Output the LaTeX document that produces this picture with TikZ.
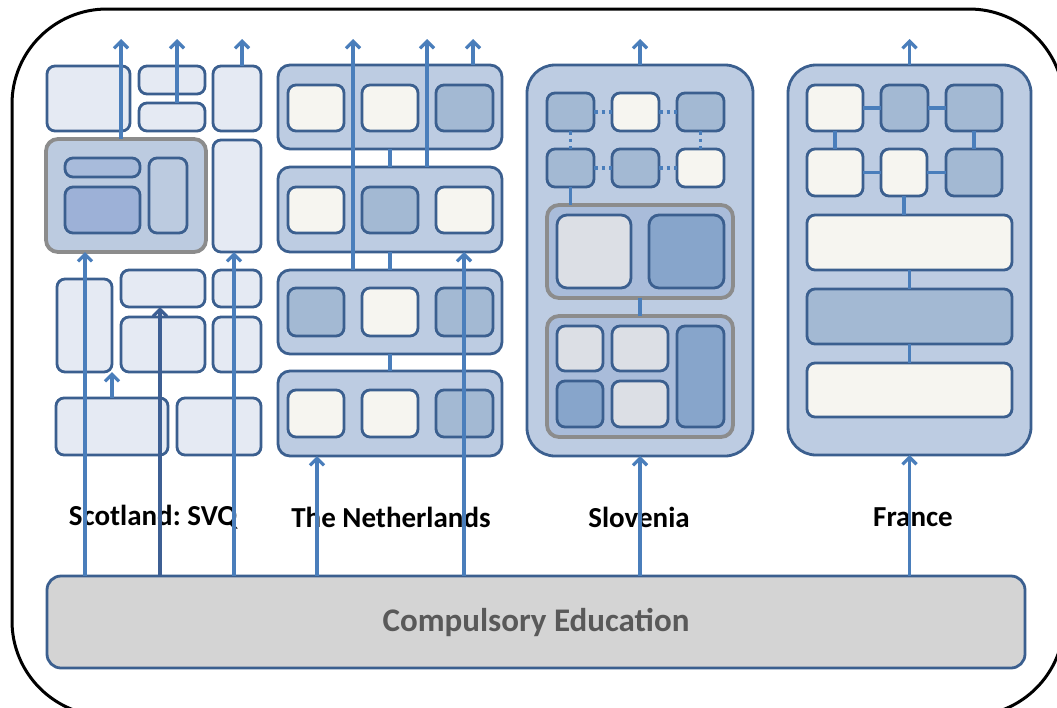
\documentclass[tikz,border=0pt]{standalone}
\usepackage{fontspec}
\setmainfont{Carlito}
\usetikzlibrary{arrows.meta}
\definecolor{bord}{HTML}{3B5F8F}
\definecolor{arrowc}{HTML}{4A7EBB}
\definecolor{arrowd}{HTML}{3D5F93}
\definecolor{paleb}{HTML}{E5EAF3}
\definecolor{cont}{HTML}{BDCCE2}
\definecolor{cream}{HTML}{F6F5F0}
\definecolor{darkb}{HTML}{A3B9D3}
\definecolor{grpf}{HTML}{A9BCDA}
\definecolor{grpg}{HTML}{BCCBE0}
\definecolor{ginA}{HTML}{A8BBDB}
\definecolor{ginB}{HTML}{9DB1D7}
\definecolor{grayl}{HTML}{DCDFE5}
\definecolor{deepb}{HTML}{87A5CB}
\definecolor{grayb}{HTML}{8C8C8C}
\definecolor{compf}{HTML}{D4D4D4}
\definecolor{compt}{HTML}{595959}
\newcommand\mybox[6]{\node[#2, minimum width={(#5-#3)*1pt}, minimum height={(#6-#4)*1pt}] (#1) at ({(#3+#5)/2},{(#4+#6)/2}) {};}
\tikzset{
  bx/.style={draw=bord, line width=2.8pt, rounded corners=8pt, inner sep=0pt, outer sep=0pt},
  pale/.style={bx, fill=paleb},
  cr/.style={bx, fill=cream},
  dk/.style={bx, fill=darkb},
  ct/.style={bx, fill=cont, rounded corners=12pt},
  grp/.style={bx, draw=grayb, line width=3.8pt, fill=grpf, rounded corners=12pt},
  arr/.style={draw=arrowc, line width=3.2pt, -{Straight Barb[length=7pt,width=14pt]}},
  arrd/.style={arr, draw=arrowd},
  ln/.style={draw=arrowc, line width=3.4pt},
  dt/.style={ln, line width=3.8pt, dash pattern=on 3.6pt off 4pt},
  lab/.style={font=\bfseries\fontsize{29}{32}\selectfont, text=black, inner sep=0pt}
}
\frenchspacing
\begin{document}
\begin{tikzpicture}[x=1pt,y=-1pt]
\useasboundingbox (0,0) rectangle (1057,707);
\clip (0,0) rectangle (1057,707);
\fill[white] (0,0) rectangle (1057,707);
\draw[black, line width=3pt, rounded corners=95pt] (12,9) rectangle (1064,716);

% ---------- Scotland ----------
\mybox{sA}{pale}{47}{66}{130}{131}
\mybox{sB}{pale}{139}{66}{205}{94}
\mybox{sC}{pale}{139}{103}{205}{131}
\mybox{sD}{pale}{213}{66}{261}{131}
\mybox{sG}{grp, fill=grpg}{46}{139}{206}{252}
\mybox{sG1}{bx, fill=ginA}{65}{158}{140}{177}
\mybox{sG2}{bx, fill=ginB}{65}{187}{140}{233}
\mybox{sG3}{bx, fill=grpg}{149}{158}{187}{233}
\mybox{sE}{pale}{213}{140}{261}{252}
\mybox{sF}{pale}{57}{279}{112}{372}
\mybox{sH}{pale}{121}{270}{205}{307}
\mybox{sI}{pale}{121}{317}{205}{372}
\mybox{sJ}{pale}{213}{270}{261}{307}
\mybox{sK}{pale}{213}{317}{261}{372}
\mybox{sL}{pale}{56}{398}{168}{455}
\mybox{sM}{pale}{177}{398}{261}{455}

% ---------- Netherlands ----------
\mybox{n1}{ct}{278}{65}{502}{149}
\mybox{n2}{ct}{278}{167}{502}{252}
\mybox{n3}{ct}{278}{270}{502}{354}
\mybox{n4}{ct}{278}{371}{502}{456}
\mybox{n1a}{cr}{288}{85}{344}{131}
\mybox{n1b}{cr}{362}{85}{418}{131}
\mybox{n1c}{dk}{436}{85}{493}{131}
\mybox{n2a}{cr}{288}{187}{344}{233}
\mybox{n2b}{dk}{362}{187}{418}{233}
\mybox{n2c}{cr}{436}{187}{493}{233}
\mybox{n3a}{dk}{288}{288}{344}{336}
\mybox{n3b}{cr}{362}{288}{418}{336}
\mybox{n3c}{dk}{436}{288}{493}{336}
\mybox{n4a}{cr}{288}{390}{344}{437}
\mybox{n4b}{cr}{362}{390}{418}{437}
\mybox{n4c}{dk}{436}{390}{493}{437}
\draw[ln] (n1.south) -- (n2.north);
\draw[ln] (n2.south) -- (n3.north);
\draw[ln] (n3.south) -- (n4.north);

% ---------- Slovenia ----------
\mybox{sv}{ct, rounded corners=28pt}{527}{65}{753}{456}
\mybox{v11}{dk}{547}{93}{594}{131}
\mybox{v12}{cr}{612}{93}{659}{131}
\mybox{v13}{dk}{677}{93}{724}{131}
\mybox{v21}{dk}{547}{149}{594}{187}
\mybox{v22}{dk}{612}{149}{659}{187}
\mybox{v23}{cr}{677}{149}{724}{187}
\draw[dt] (v11.east) -- (v12.west);
\draw[dt] (v12.east) -- (v13.west);
\draw[dt] (v21.east) -- (v22.west);
\draw[dt] (v22.east) -- (v23.west);
\draw[dt] (v11.south) -- (v21.north);
\draw[dt] (v13.south) -- (v23.north);
\mybox{vg1}{grp}{547}{205}{733}{298}
\mybox{vg2}{grp}{547}{316}{733}{437}
\mybox{vg1a}{bx, fill=grayl, rounded corners=10pt}{557}{215}{631}{288}
\mybox{vg1b}{bx, fill=deepb, rounded corners=10pt}{649}{215}{724}{288}
\mybox{vg2a}{bx, fill=grayl}{557}{326}{603}{371}
\mybox{vg2b}{bx, fill=grayl}{612}{326}{668}{371}
\mybox{vg2c}{bx, fill=deepb}{557}{381}{603}{427}
\mybox{vg2d}{bx, fill=grayl}{612}{381}{668}{427}
\mybox{vg2e}{bx, fill=deepb}{677}{326}{724}{427}
\draw[ln] (v21.south) -- (v21.south |- vg1.north);
\draw[ln] (vg1.south) -- (vg2.north);

% ---------- France ----------
\mybox{fr}{ct, rounded corners=28pt}{788}{65}{1031}{455}
\mybox{f11}{cr}{807}{85}{863}{131}
\mybox{f12}{dk}{881}{85}{928}{131}
\mybox{f13}{dk}{946}{85}{1002}{131}
\mybox{f21}{cr}{807}{149}{863}{196}
\mybox{f22}{cr}{881}{149}{927}{196}
\mybox{f23}{dk}{946}{149}{1002}{196}
\mybox{fb1}{cr}{807}{215}{1012}{270}
\mybox{fb2}{dk}{807}{289}{1012}{344}
\mybox{fb3}{cr}{807}{363}{1012}{417}
\draw[ln] (f11.east) -- (f12.west);
\draw[ln] (f12.east) -- (f13.west);
\draw[ln] (f21.east) -- (f22.west);
\draw[ln] (f22.east) -- (f23.west);
\draw[ln] (f11.south) -- (f21.north);
\draw[ln] (f13.south) -- (f23.north);
\draw[ln] (f22.south) -- (f22.south |- fb1.north);
\draw[ln] (fb1.south) -- (fb2.north);
\draw[ln] (fb2.south) -- (fb3.north);

% ---------- Compulsory education ----------
\node[bx, draw=bord, fill=compf, rounded corners=14pt, minimum width=978pt, minimum height=92pt,
      font=\bfseries\fontsize{33}{36}\selectfont, text=compt] (comp) at (536,622) {Compulsory Education};

% ---------- labels ----------
\node[lab] (lsco) at (153,517) {Scotland: SVQ};
\node[lab] (lnet) at (391,517) {The Netherlands};
\node[lab] (lslo) at (639,517) {Slovenia};
\node[lab] (lfra) at (913,517) {France};

% ---------- arrow positions ----------
\coordinate (x85) at (85,0);
\coordinate (x112) at (112,0);
\coordinate (x160) at (160,0);
\coordinate (x234) at (234,0);
\coordinate (x317) at (317,0);
\coordinate (x464) at (464,0);
\coordinate (t121) at (121,39);
\coordinate (t177) at (177,39);
\coordinate (t242) at (242,39);
\coordinate (t353) at (353,39);
\coordinate (t427) at (427,39);
\coordinate (t473) at (473,39);
\coordinate (tsv) at (640,39);
\coordinate (tfr) at (909.5,39);

% Scotland arrows
\draw[arr] (comp.north -| x85) -- (sG.south -| x85);
\draw[arr] (sL.north -| x112) -- (sF.south -| x112);
\draw[arr] (sG.north -| t121) -- (t121);
\draw[arr] (sC.north -| t177) -- (t177);
\draw[arr] (sD.north -| t242) -- (t242);
\draw[arrd] (comp.north -| x160) -- (sH.south -| x160);
\draw[arr] (comp.north -| x234) -- (sE.south -| x234);
% Netherlands arrows
\draw[arr] (n3.north -| t353) -- (t353);
\draw[arr] (n2.north -| t427) -- (t427);
\draw[arr] (n1.north -| t473) -- (t473);
\draw[arr] (comp.north -| x464) -- (n2.south -| x464);
\draw[arr] (comp.north -| x317) -- (n4.south -| x317);
% Slovenia arrows
\draw[arr] (sv.north) -- (tsv);
\draw[arr] (comp.north -| sv.south) -- (sv.south);
% France arrows
\draw[arr] (fr.north) -- (tfr);
\draw[arr] (comp.north -| fr.south) -- (fr.south);
\end{tikzpicture}
\end{document}
